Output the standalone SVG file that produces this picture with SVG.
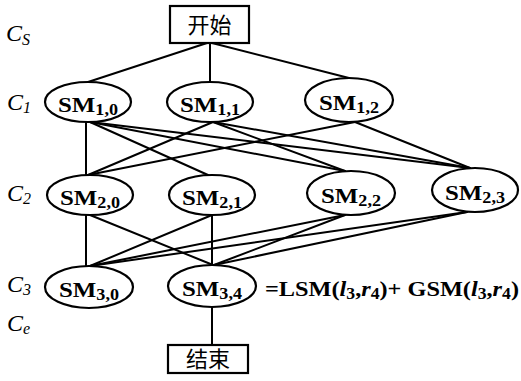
<svg xmlns="http://www.w3.org/2000/svg" width="521" height="381" viewBox="0 0 521 381">
<style>
.bg{fill:#fff}
.box{fill:#fff;stroke:#000;stroke-width:2.2}
.ell{fill:#fff;stroke:#000;stroke-width:2.2}
.edge{stroke:#000;stroke-width:2;fill:none;stroke-linecap:round}
.cjk{font-family:"Noto Sans CJK SC",sans-serif;font-size:22px;fill:#000}
.lbl{font-family:"Liberation Serif","DejaVu Serif","Times New Roman",serif;font-weight:bold;font-size:22px;fill:#000}
.sub{font-size:16px}
.lev{font-family:"Liberation Serif","DejaVu Serif","Times New Roman",serif;font-style:italic;font-size:24px;fill:#000}
.levs{font-size:16px}
.f{font-family:"Liberation Serif","DejaVu Serif","Times New Roman",serif;font-weight:bold;font-size:22px;fill:#000}
.it{font-style:italic}
</style>
<rect class="bg" x="0" y="0" width="521" height="381"/>
<g id="connectors">
<line class="edge" x1="207" y1="43" x2="88" y2="82"/>
<line class="edge" x1="210" y1="43" x2="210" y2="82"/>
<line class="edge" x1="212" y1="43" x2="349" y2="78"/>
<line class="edge" x1="86" y1="122" x2="86" y2="175"/>
<line class="edge" x1="90" y1="122" x2="208" y2="175"/>
<line class="edge" x1="90" y1="122" x2="345" y2="171"/>
<line class="edge" x1="90" y1="122" x2="470" y2="168"/>
<line class="edge" x1="213" y1="122" x2="88" y2="175"/>
<line class="edge" x1="213" y1="122" x2="345" y2="171"/>
<line class="edge" x1="213" y1="122" x2="470" y2="168"/>
<line class="edge" x1="355" y1="122" x2="88" y2="175"/>
<line class="edge" x1="355" y1="122" x2="470" y2="168"/>
<line class="edge" x1="86" y1="215" x2="86" y2="266"/>
<line class="edge" x1="90" y1="215" x2="213" y2="265"/>
<line class="edge" x1="212" y1="215" x2="90" y2="266"/>
<line class="edge" x1="212" y1="215" x2="212" y2="265"/>
<line class="edge" x1="345" y1="215" x2="90" y2="266"/>
<line class="edge" x1="345" y1="215" x2="214" y2="265"/>
<line class="edge" x1="467" y1="212" x2="90" y2="266"/>
<line class="edge" x1="467" y1="212" x2="214" y2="265"/>
<line class="edge" x1="212" y1="307" x2="212" y2="345"/>
</g>
<g id="levels">
<text class="lev" x="6" y="41">C<tspan class="levs" dy="4">S</tspan></text>
<text class="lev" x="7" y="110">C<tspan class="levs" dy="3">1</tspan></text>
<text class="lev" x="7" y="201">C<tspan class="levs" dy="3">2</tspan></text>
<text class="lev" x="7" y="292">C<tspan class="levs" dy="3">3</tspan></text>
<text class="lev" x="7" y="331">C<tspan class="levs" dy="3">e</tspan></text>
</g>
<g id="start">
<rect class="box" x="170" y="6" width="79" height="37"/>
<text class="cjk" x="209.5" y="33" text-anchor="middle">开始</text>
</g>
<g id="SM1_0">
<ellipse class="ell" cx="88" cy="102" rx="43" ry="20"/>
<text class="lbl" x="58" y="112" textLength="60" lengthAdjust="spacingAndGlyphs">SM<tspan class="sub" dy="3">1,0</tspan></text>
</g>
<g id="SM1_1">
<ellipse class="ell" cx="210" cy="102" rx="43" ry="20"/>
<text class="lbl" x="180" y="112" textLength="60" lengthAdjust="spacingAndGlyphs">SM<tspan class="sub" dy="3">1,1</tspan></text>
</g>
<g id="SM1_2">
<ellipse class="ell" cx="349" cy="100" rx="44" ry="22"/>
<text class="lbl" x="319" y="110" textLength="60" lengthAdjust="spacingAndGlyphs">SM<tspan class="sub" dy="3">1,2</tspan></text>
</g>
<g id="SM2_0">
<ellipse class="ell" cx="90" cy="195" rx="43" ry="20"/>
<text class="lbl" x="60" y="205" textLength="60" lengthAdjust="spacingAndGlyphs">SM<tspan class="sub" dy="3">2,0</tspan></text>
</g>
<g id="SM2_1">
<ellipse class="ell" cx="212" cy="195" rx="43" ry="20"/>
<text class="lbl" x="182" y="205" textLength="60" lengthAdjust="spacingAndGlyphs">SM<tspan class="sub" dy="3">2,1</tspan></text>
</g>
<g id="SM2_2">
<ellipse class="ell" cx="351" cy="193" rx="44" ry="22"/>
<text class="lbl" x="321" y="203" textLength="60" lengthAdjust="spacingAndGlyphs">SM<tspan class="sub" dy="3">2,2</tspan></text>
</g>
<g id="SM2_3">
<ellipse class="ell" cx="475" cy="190" rx="43" ry="22"/>
<text class="lbl" x="445" y="200" textLength="60" lengthAdjust="spacingAndGlyphs">SM<tspan class="sub" dy="3">2,3</tspan></text>
</g>
<g id="SM3_0">
<ellipse class="ell" cx="89" cy="287" rx="44" ry="21"/>
<text class="lbl" x="59" y="297" textLength="60" lengthAdjust="spacingAndGlyphs">SM<tspan class="sub" dy="3">3,0</tspan></text>
</g>
<g id="SM3_4">
<ellipse class="ell" cx="212" cy="286" rx="44" ry="21"/>
<text class="lbl" x="182" y="296" textLength="60" lengthAdjust="spacingAndGlyphs">SM<tspan class="sub" dy="3">3,4</tspan></text>
</g>
<g id="formula">
<text class="f" x="265" y="296" textLength="254" lengthAdjust="spacingAndGlyphs">=LSM(<tspan class="it">l</tspan><tspan class="sub" dy="3">3</tspan><tspan dy="-3">,</tspan><tspan class="it">r</tspan><tspan class="sub" dy="3">4</tspan><tspan dy="-3">)+ GSM(</tspan><tspan class="it">l</tspan><tspan class="sub" dy="3">3</tspan><tspan dy="-3">,</tspan><tspan class="it">r</tspan><tspan class="sub" dy="3">4</tspan><tspan dy="-3">)</tspan></text>
</g>
<g id="end">
<rect class="box" x="168" y="345" width="80" height="28"/>
<text class="cjk" x="208" y="367" text-anchor="middle">结束</text>
</g>
</svg>
